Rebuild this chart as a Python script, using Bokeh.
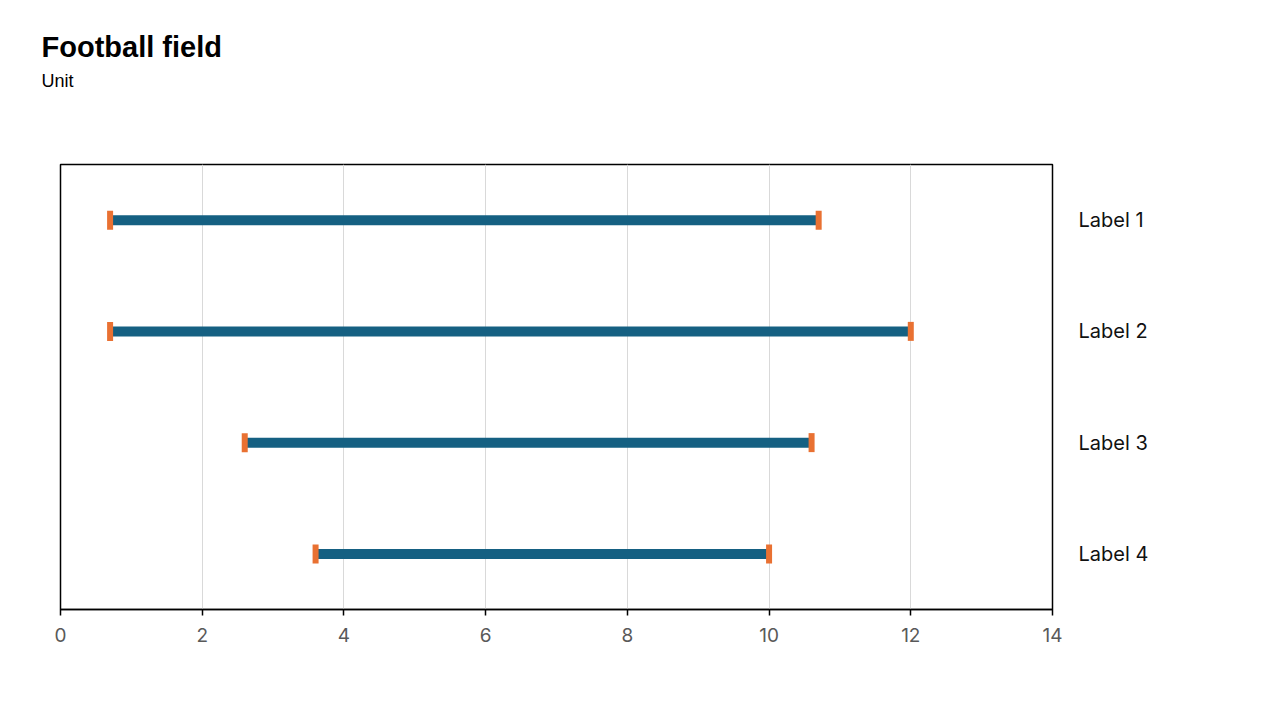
from bokeh.plotting import figure
from bokeh.models import (FactorRange, Range1d, FixedTicker, Title, ColumnDataSource)
from bokeh.embed import file_html
from bokeh.resources import INLINE

# Data
labels = ["Label 1", "Label 2", "Label 3", "Label 4"]
low = [0.7, 0.7, 2.6, 3.6]
high = [10.7, 12.0, 10.6, 10.0]
x_ticks = [0, 2, 4, 6, 8, 10, 12, 14]
title_text = "Football field"
subtitle_text = "Unit"

BLUE = "#156082"
ORANGE = "#E97132"

src = ColumnDataSource(dict(label=labels, low=low, high=high))

p = figure(width=1272, height=708, output_backend="svg", toolbar_location=None,
           y_range=FactorRange(factors=labels[::-1], range_padding=0),
           x_range=Range1d(0, 14), y_axis_location="right",
           min_border_left=60, min_border_right=220, min_border_top=164,
           min_border_bottom=99)

p.segment(x0="low", x1="high", y0="label", y1="label", source=src,
          line_color=BLUE, line_width=10, line_cap="butt")
p.rect(x="low", y="label", width=6, height=19, width_units="screen",
       height_units="screen", source=src, fill_color=ORANGE, line_color=None)
p.rect(x="high", y="label", width=6, height=19, width_units="screen",
       height_units="screen", source=src, fill_color=ORANGE, line_color=None)

p.outline_line_color = "black"
p.outline_line_width = 1.5
p.outline_line_alpha = 1.0

p.xgrid.ticker = FixedTicker(ticks=x_ticks)
p.xgrid.grid_line_color = "#d9d9d9"
p.xgrid.grid_line_width = 1
p.ygrid.grid_line_color = None

xa = p.xaxis[0]
xa.ticker = FixedTicker(ticks=x_ticks)
xa.axis_line_color = "black"
xa.axis_line_width = 1.5
xa.major_tick_line_color = "black"
xa.major_tick_line_width = 1.5
xa.major_tick_in = 0
xa.major_tick_out = 6
xa.minor_tick_line_color = None
xa.major_label_text_font = "Inter"
xa.major_label_text_font_size = "19px"
xa.major_label_text_color = "#595959"
xa.major_label_standoff = 12

ya = p.yaxis[0]
ya.axis_line_color = None
ya.major_tick_line_color = None
ya.minor_tick_line_color = None
ya.major_label_text_font = "Inter"
ya.major_label_text_font_size = "20px"
ya.major_label_text_color = "#111111"
ya.major_label_standoff = 20

# spacer between the frame and the subtitle
p.add_layout(Title(text=" ", text_font_size="1px", standoff=70), "above")
p.add_layout(Title(text=subtitle_text, text_font="Liberation Sans",
                   text_font_style="normal", text_font_size="18px",
                   text_color="black", offset=-19, standoff=2), "above")
p.add_layout(Title(text=title_text, text_font="Liberation Sans",
                   text_font_style="bold", text_font_size="29px",
                   text_color="black", offset=-19), "above")

open("out.html", "w").write(file_html(p, INLINE))
